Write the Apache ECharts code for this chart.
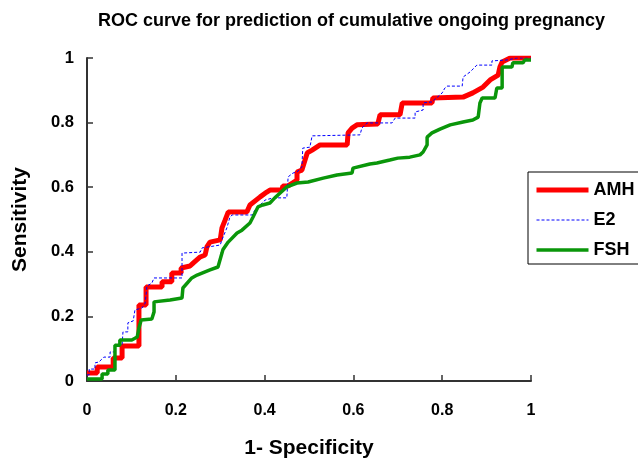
<!DOCTYPE html>
<html lang="en">
<head>
  <meta charset="UTF-8">
  <title>ROC curve</title>
  <style>
    body { margin: 0; background: #fff; }
    #main { width: 638px; height: 463px; }
  </style>
</head>
<body>
  <div id="main"></div>
  <script src="https://cdn.jsdelivr.net/npm/echarts@6/dist/echarts.min.js"></script>
  <script type="text/javascript">

    // 1 - specificity / sensitivity
    var amhFpr = [0, 0.023, 0.023, 0.059, 0.059, 0.079, 0.079, 0.117, 0.117, 0.133, 0.133, 0.169, 0.169, 0.191, 0.191, 0.212, 0.212, 0.232, 0.239, 0.255, 0.266, 0.270, 0.277, 0.300, 0.304, 0.311, 0.318, 0.360, 0.367, 0.390, 0.405, 0.412, 0.439, 0.441, 0.453, 0.473, 0.473, 0.484, 0.496, 0.507, 0.525, 0.586, 0.588, 0.597, 0.608, 0.655, 0.660, 0.705, 0.710, 0.777, 0.779, 0.847, 0.869, 0.892, 0.908, 0.926, 0.930, 0.935, 0.953, 1];
    var amhTpr = [0.025, 0.025, 0.043, 0.043, 0.071, 0.071, 0.108, 0.108, 0.235, 0.235, 0.291, 0.291, 0.307, 0.307, 0.334, 0.334, 0.350, 0.356, 0.365, 0.384, 0.390, 0.415, 0.430, 0.437, 0.474, 0.498, 0.523, 0.523, 0.545, 0.570, 0.585, 0.591, 0.591, 0.604, 0.604, 0.622, 0.647, 0.653, 0.706, 0.715, 0.731, 0.731, 0.768, 0.783, 0.793, 0.796, 0.824, 0.824, 0.861, 0.861, 0.876, 0.879, 0.892, 0.910, 0.932, 0.947, 0.972, 0.988, 1, 1];

    var e2Fpr = [0, 0.005, 0.005, 0.018, 0.018, 0.027, 0.038, 0.052, 0.052, 0.063, 0.063, 0.079, 0.081, 0.092, 0.092, 0.104, 0.108, 0.124, 0.131, 0.135, 0.146, 0.151, 0.214, 0.214, 0.255, 0.259, 0.300, 0.304, 0.315, 0.322, 0.327, 0.372, 0.378, 0.401, 0.419, 0.450, 0.453, 0.464, 0.473, 0.484, 0.486, 0.502, 0.507, 0.615, 0.619, 0.631, 0.687, 0.694, 0.739, 0.739, 0.757, 0.757, 0.777, 0.800, 0.806, 0.811, 0.845, 0.847, 0.863, 0.878, 0.912, 0.912, 0.946, 0.968, 1];
    var e2Tpr = [0.019, 0.019, 0.037, 0.037, 0.056, 0.059, 0.074, 0.074, 0.090, 0.090, 0.105, 0.111, 0.152, 0.152, 0.180, 0.186, 0.220, 0.226, 0.241, 0.294, 0.303, 0.319, 0.319, 0.396, 0.399, 0.412, 0.421, 0.437, 0.474, 0.508, 0.514, 0.514, 0.529, 0.560, 0.567, 0.567, 0.632, 0.644, 0.647, 0.663, 0.721, 0.724, 0.759, 0.762, 0.783, 0.799, 0.799, 0.814, 0.814, 0.833, 0.839, 0.861, 0.864, 0.892, 0.907, 0.913, 0.913, 0.941, 0.957, 0.978, 0.978, 0.991, 0.994, 1, 1];

    var fshFpr = [0, 0.034, 0.034, 0.047, 0.047, 0.063, 0.063, 0.074, 0.074, 0.101, 0.113, 0.117, 0.122, 0.146, 0.151, 0.151, 0.187, 0.214, 0.216, 0.236, 0.248, 0.277, 0.295, 0.304, 0.306, 0.318, 0.338, 0.349, 0.367, 0.374, 0.385, 0.396, 0.412, 0.423, 0.435, 0.450, 0.473, 0.498, 0.532, 0.563, 0.597, 0.599, 0.637, 0.653, 0.682, 0.700, 0.727, 0.750, 0.757, 0.766, 0.766, 0.777, 0.795, 0.818, 0.847, 0.869, 0.881, 0.885, 0.890, 0.919, 0.923, 0.935, 0.935, 0.957, 0.959, 0.982, 0.986, 1];
    var fshTpr = [0.006, 0.006, 0.022, 0.022, 0.034, 0.034, 0.111, 0.111, 0.127, 0.127, 0.136, 0.164, 0.189, 0.192, 0.214, 0.245, 0.251, 0.257, 0.288, 0.319, 0.328, 0.344, 0.353, 0.396, 0.406, 0.430, 0.458, 0.467, 0.489, 0.508, 0.539, 0.545, 0.551, 0.567, 0.582, 0.601, 0.613, 0.616, 0.628, 0.638, 0.644, 0.659, 0.672, 0.675, 0.684, 0.690, 0.693, 0.700, 0.709, 0.731, 0.755, 0.768, 0.780, 0.793, 0.802, 0.808, 0.817, 0.861, 0.876, 0.876, 0.907, 0.907, 0.972, 0.972, 0.985, 0.985, 0.994, 0.994];

    var seriesNames = ['AMH', 'E2', 'FSH'];

    function zip(xs, ys) {
      var out = [];
      for (var i = 0; i < xs.length; i++) out.push([xs[i], ys[i]]);
      return out;
    }

    var font = 'Liberation Sans, Arial, Helvetica, sans-serif';
    var axisColor = '#333';
    var red = '#ff0000', blue = '#0000ff', green = '#0a960a';

    var myChart = echarts.init(document.getElementById('main'));

    var option = {
      animation: false,
      title: {
        text: 'ROC curve for prediction of cumulative ongoing pregnancy',
        left: 93,
        top: 7,
        textStyle: { fontFamily: font, fontSize: 18, fontWeight: 'bold', color: '#000' }
      },
      // fixed plot box, don't let ecarts shrink it for the labels
      grid: { left: 87, top: 58, right: 107, bottom: 82, outerBoundsMode: 'none' },
      legend: {
        // line only, no marker in the middle
        data: [
          { name: seriesNames[0], lineStyle: { color: red, width: 5 } },
          { name: seriesNames[1], lineStyle: { color: blue, width: 1, type: [3, 2] } },
          { name: seriesNames[2], lineStyle: { color: green, width: 3.5 } }
        ],
        orient: 'vertical',
        left: 528,
        top: 172,
        itemWidth: 52,
        itemHeight: 14,
        itemGap: 12,
        padding: [9, 60, 5, 6],
        borderColor: '#000',
        borderWidth: 1,
        itemStyle: { opacity: 0 },
        textStyle: { fontFamily: font, fontSize: 18, fontWeight: 'bold', color: '#000' }
      },
      xAxis: {
        type: 'value',
        min: 0, max: 1, interval: 0.2,
        name: '1- Specificity',
        nameLocation: 'middle',
        nameGap: 57,
        nameTextStyle: { fontFamily: font, fontSize: 21, fontWeight: 'bold', color: '#000' },
        axisLine: { lineStyle: { color: axisColor, width: 2 } },
        axisTick: { inside: true, length: 6, lineStyle: { color: axisColor, width: 1.5 } },
        axisLabel: { margin: 22, fontFamily: font, fontSize: 16, fontWeight: 'bold', color: '#000' },
        splitLine: { show: false }
      },
      yAxis: {
        type: 'value',
        min: 0, max: 1, interval: 0.2,
        name: 'Sensitivity',
        nameLocation: 'middle',
        nameGap: 56,
        nameTextStyle: { fontFamily: font, fontSize: 21, fontWeight: 'bold', color: '#000' },
        axisLine: { show: true, lineStyle: { color: axisColor, width: 2 } },
        axisTick: { show: true, inside: true, length: 6, lineStyle: { color: axisColor, width: 1.5 } },
        axisLabel: { margin: 13, fontFamily: font, fontSize: 16.5, fontWeight: 'bold', color: '#000' },
        splitLine: { show: false }
      },
      series: [
        {
          name: 'AMH', type: 'line', symbol: 'none',
          data: zip(amhFpr, amhTpr),
          lineStyle: { color: red, width: 5 },
          itemStyle: { color: red }
        },
        {
          name: 'E2', type: 'line', symbol: 'none',
          data: zip(e2Fpr, e2Tpr),
          lineStyle: { color: blue, width: 1, type: [3, 2] },
          itemStyle: { color: blue }
        },
        {
          name: 'FSH', type: 'line', symbol: 'none',
          data: zip(fshFpr, fshTpr),
          lineStyle: { color: green, width: 3.5 },
          itemStyle: { color: green }
        }
      ]
    };

    myChart.setOption(option);
  </script>
</body>
</html>
